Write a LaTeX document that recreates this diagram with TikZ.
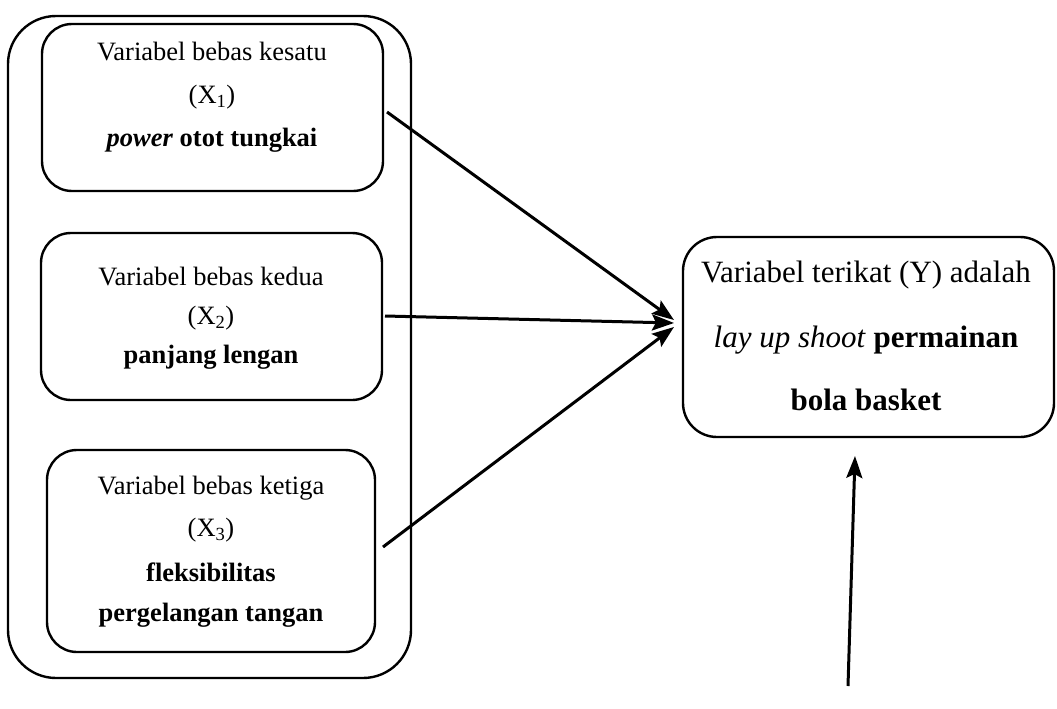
\documentclass[tikz,border=0pt]{standalone}
\usepackage{fontspec}
\setmainfont{Liberation Serif}
\usetikzlibrary{arrows.meta}
\begin{document}
\begin{tikzpicture}[x=1pt,y=-1pt,
  box/.style={draw,line width=2.4pt,rounded corners=30pt,inner sep=0pt},
  lbl/.style={inner sep=0pt,font=\fontsize{26.5}{30}\selectfont},
  rlbl/.style={inner sep=0pt,font=\fontsize{31}{36}\selectfont},
  conn/.style={line width=3pt,-{Stealth[length=22pt,width=16pt,inset=4pt]}}]
\useasboundingbox (0,0) rectangle (1057,709);
% boxes
\node[box,rounded corners=48pt,minimum width=403pt,minimum height=662pt] (outer) at (209.5,347) {};
\node[box,minimum width=341pt,minimum height=167pt] (b1) at (212.5,107.5) {};
\node[box,minimum width=341pt,minimum height=167pt] (b2) at (211.5,316.5) {};
\node[box,minimum width=328pt,minimum height=202pt] (b3) at (211,551) {};
\node[box,rounded corners=34pt,minimum width=371pt,minimum height=200pt] (y) at (868.5,337) {};
% texts box 1
\node[lbl] (t11) at (212,52) {Variabel bebas kesatu};
\node[lbl] (t12) at (212,97) {(X\textsubscript{1})};
\node[lbl] (t13) at (212,140) {\textbf{\textit{power}} \textbf{otot tungkai}};
% texts box 2
\node[lbl] (t21) at (211,277) {Variabel bebas kedua};
\node[lbl] (t22) at (211,318) {(X\textsubscript{2})};
\node[lbl] (t23) at (211,357) {\textbf{panjang lengan}};
% texts box 3
\node[lbl] (t31) at (211,488) {Variabel bebas ketiga};
\node[lbl] (t32) at (211,530) {(X\textsubscript{3})};
\node[lbl] (t33) at (211,572) {\textbf{fleksibilitas}};
\node[lbl] (t34) at (211,615) {\textbf{pergelangan tangan}};
% right box texts
\node[rlbl] (ty1) at (866,275) {Variabel terikat (Y) adalah};
\node[rlbl] (ty2) at (866,340) {\textit{lay up shoot} \textbf{permainan}};
\node[rlbl] (ty3) at (866,400) {\textbf{bola basket}};
% connectors
\coordinate (s1) at (387,112);
\coordinate (s2) at (385,316);
\coordinate (s3) at (383,547);
\coordinate (e1) at (674,320);
\coordinate (e2) at (674,323);
\coordinate (e3) at (674,327);
\coordinate (s4) at (848,686);
\coordinate (e4) at (855,456);
\draw[conn] (s1) -- (e1);
\draw[conn] (s2) -- (e2);
\draw[conn] (s3) -- (e3);
\draw[conn] (s4) -- (e4);
\end{tikzpicture}
\end{document}
